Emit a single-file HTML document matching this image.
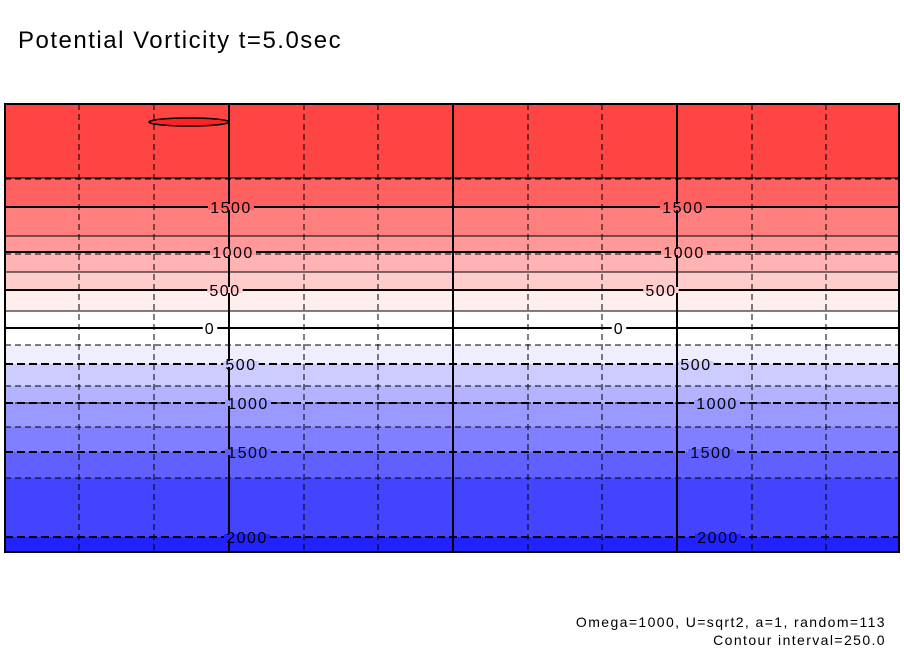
<!DOCTYPE html>
<html><head><meta charset="utf-8"><style>
body{margin:0;background:#fff;width:904px;height:654px;overflow:hidden;font-family:"Liberation Sans",sans-serif}
</style></head><body>
<svg id="chart" width="904" height="654" xmlns="http://www.w3.org/2000/svg">
<text x="18" y="48" font-size="24" letter-spacing="1.5" font-family="Liberation Sans, sans-serif" fill="#000">Potential Vorticity t=5.0sec</text>
<g id="fills"></g><g id="grid"></g><g id="contours"></g><g id="labels"></g>
<rect x="5" y="104" width="894" height="448" fill="none" stroke="#000" stroke-width="2"/>
<text x="886" y="627" font-size="14" letter-spacing="1.4" text-anchor="end" fill="#000">Omega=1000, U=sqrt2, a=1, random=113</text>
<text x="886" y="645" font-size="14" letter-spacing="1.4" text-anchor="end" fill="#000">Contour interval=250.0</text>
</svg>
<script>
const levels=[1750,1500,1250,1000,750,500,250,0,-250,-500,-750,-1000,-1250,-1500,-1750,-2000];
const levelY=[178,207,236,252,272,290,311,328,345,364,386,403,427,452,478,537];
const bandColors=["#ff4444","#ff6060","#ff7f7f","#ff9999","#ffb3b3","#ffcccc","#ffeeee","#ffffff","#ffffff","#eeeeff","#ccccff","#b3b3ff","#9999ff","#7f7fff","#6060ff","#4444ff","#2222ff"];
const labeledLevels=[1500,1000,500,0,-500,-1000,-1500,-2000];
const labelLeftX=[231,233,225,210,241,248,248,247];
const labelRightX=[683,684,661,619,696,717,711,718];
const ns="http://www.w3.org/2000/svg";
const X0=5,X1=899,Y0=104,Y1=552;
function mk(t,a,p){const e=document.createElementNS(ns,t);for(const k in a)e.setAttribute(k,a[k]);p.appendChild(e);return e;}
const fills=document.getElementById('fills'),grid=document.getElementById('grid'),cont=document.getElementById('contours'),labs=document.getElementById('labels');
const bounds=[Y0].concat(levelY,[Y1]);
for(let i=0;i<bandColors.length;i++){
 const r=mk('rect',{x:X0,y:bounds[i],width:X1-X0,height:bounds[i+1]-bounds[i],fill:bandColors[i]},fills);
 
 
}
[79,154,304,378,528,602,752,826].forEach(x=>{const l=mk('line',{x1:x,x2:x,y1:Y0,y2:Y1,stroke:'#000','stroke-dasharray':'6,4','stroke-width':1},grid);});
[229,453,677].forEach(x=>{const l=mk('line',{x1:x,x2:x,y1:Y0,y2:Y1,stroke:'#000','stroke-width':2},grid);});
[179,254,403,478].forEach(y=>{const l=mk('line',{x1:X0,x2:X1,y1:y,y2:y,stroke:'#000','stroke-dasharray':'6,4','stroke-width':1},grid);});
levels.forEach((v,i)=>{
 const major=v%500===0;
 const l=mk('line',{x1:X0,x2:X1,y1:levelY[i],y2:levelY[i],stroke:'#000','stroke-width':major?2:1},cont);
 if(v<0)l.setAttribute('stroke-dasharray',major?'8,4':'6,4');
 
 
});
const oval=mk('ellipse',{cx:189,cy:122,rx:40,ry:4,fill:'#ff2222',stroke:'#000','stroke-width':1.5},cont);


labeledLevels.forEach((v,j)=>{
 const i=levels.indexOf(v);
 const y=levelY[i];
 [labelLeftX[j],labelRightX[j]].forEach(x=>{
  const txt=String(Math.abs(v));
  const w=txt.length*10.5+4;
  const bg=mk('rect',{x:x-w/2,y:y-3,width:w,height:6,fill:bandColors[v<0?i+1:i]},labs);
  
  
  const t=mk('text',{x:x,y:y+6,'font-size':16,'letter-spacing':1.5,'text-anchor':'middle',fill:'#000','font-family':'Liberation Sans, sans-serif'},labs);
  t.textContent=txt;
  
  
 });
});
</script>
</body></html>
